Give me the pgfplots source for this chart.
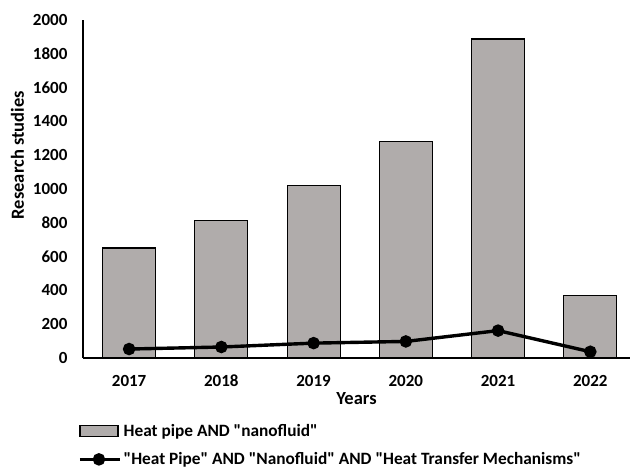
\documentclass[border=0pt]{standalone}
\usepackage{pgfplots}
\pgfplotsset{compat=1.18}
\usepackage{fontspec}
\setmainfont{Carlito}[Ligatures=TeXOff]
\definecolor{bargray}{RGB}{176,172,171}
\begin{document}
\begin{tikzpicture}
\begin{axis}[
  name=ax,
  scale only axis,
  width=547pt, height=338pt,
  xmin=-0.5, xmax=5.43,
  ymin=0, ymax=2000,
  ytick={0,200,...,2000},
  xtick={0,1,2,3,4,5},
  xticklabels={2017,2018,2019,2020,2021,2022},
  axis x line=bottom, axis y line=left,
  axis line style={-, line width=1.3pt, black},
  major tick length=0pt,
  tick label style={font=\fontsize{17}{20}\selectfont\bfseries},
  label style={font=\fontsize{18.5}{21}\selectfont\bfseries},
  /pgf/number format/assume math mode=true,
  /pgf/number format/1000 sep={},
  yticklabel style={xshift=-12pt},
  xticklabel style={anchor=north, text height=12pt, text depth=0pt, yshift=-13pt},
  ylabel={Research studies},
  ylabel style={at={(ticklabel cs:0.6)}, yshift=2pt},
  xlabel={Years},
  xlabel style={yshift=1pt},
  legend style={at={(axis description cs:-0.009,-0.19)}, anchor=north west, draw=none, fill=none, inner sep=0pt, row sep=10.5pt, font=\fontsize{17.3}{20}\selectfont\bfseries},
  legend cell align=left,
  clip=false,
]
\addplot[ybar, bar width=53pt, fill=bargray, draw=black, line width=1.2pt,
  legend image code/.code={\draw[fill=bargray, draw=black, line width=1.2pt] (0pt,-5pt) rectangle (38pt,6pt);}]
  coordinates {(0,651) (1,812) (2,1019) (3,1280) (4,1888) (5,369)};
\addlegendentry{Heat pipe AND "nanofluid"}
\addplot[black, line width=3.4pt, mark=*, mark size=4.5pt,
  legend image code/.code={\draw[black, line width=3.4pt] (0pt,0pt)--(40pt,0pt); \fill[black] (19pt,0pt) circle (4.5pt);}]
  coordinates {(0,53) (1,65) (2,88) (3,98) (4,162) (5,37)};
\addlegendentry{"Heat Pipe" AND "Nanofluid" AND "Heat Transfer Mechanisms"}
\end{axis}
\pgfresetboundingbox
\path[use as bounding box] (ax.south west) ++(-83pt,-112pt) rectangle ++(630pt,470pt);
\end{tikzpicture}
\end{document}
